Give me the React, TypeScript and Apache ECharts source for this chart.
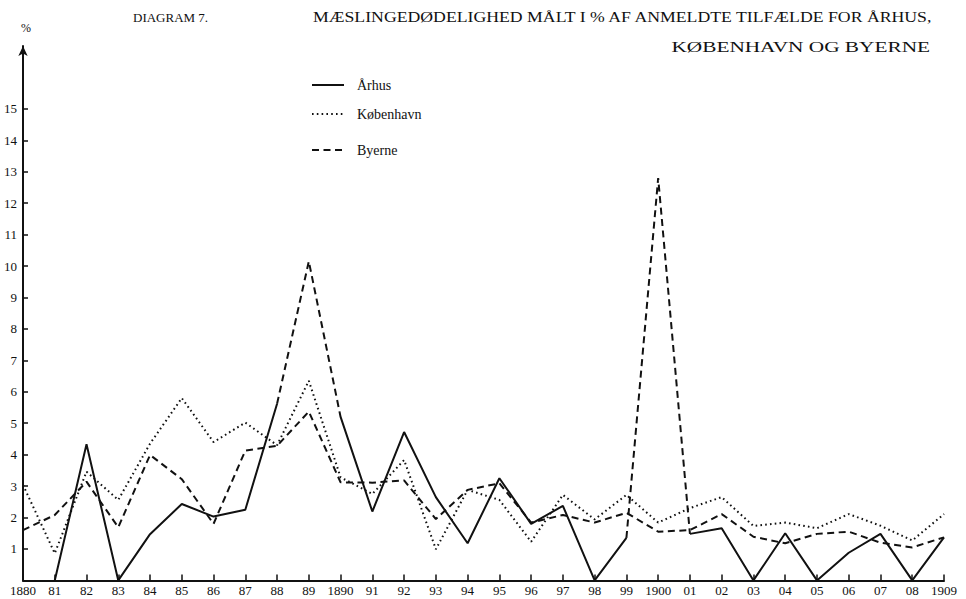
import React, { useEffect, useRef } from "react";
import * as echarts from "echarts";

const years = [
  "1880", "81", "82", "83", "84", "85", "86", "87", "88", "89",
  "1890", "91", "92", "93", "94", "95", "96", "97", "98", "99",
  "1900", "01", "02", "03", "04", "05", "06", "07", "08", "1909",
];

const yTicks = [1, 2, 3, 4, 5, 6, 7, 8, 9, 10, 11, 12, 13, 14, 15];

// Århus (solid; the two peaks are drawn dashed in the original)
const aarhus = [
  null, 0, 4.33, 0, 1.47, 2.43, 2.03, 2.25, 5.62, 10.15,
  5.2, 2.19, 4.72, 2.65, 1.18, 3.25, 1.8, 2.37, 0, 1.35,
  12.8, 1.48, 1.66, 0, 1.5, 0, 0.88, 1.48, 0, 1.37,
];
const aarhusDashedYears = ["89", "1900"];

const koebenhavn = [
  3.04, 0.86, 3.46, 2.56, 4.35, 5.8, 4.4, 5.02, 4.3, 6.35,
  3.28, 2.75, 3.83, 0.99, 2.88, 2.56, 1.23, 2.72, 1.94, 2.72,
  1.84, 2.3, 2.65, 1.73, 1.84, 1.66, 2.11, 1.74, 1.27, 2.11,
];

const byerne = [
  1.6, 2.08, 3.14, 1.69, 3.99, 3.22, 1.8, 4.13, 4.28, 5.37,
  3.12, 3.11, 3.18, 1.95, 2.88, 3.09, 1.84, 2.08, 1.84, 2.15,
  1.55, 1.6, 2.11, 1.39, 1.18, 1.48, 1.55, 1.2, 1.05, 1.37,
];

const FONT = "'Liberation Serif', 'DejaVu Serif', serif";
const INK = "#111";

export default function App() {
  const ref = useRef<HTMLDivElement>(null);

  useEffect(() => {
    if (!ref.current) return;
    const chart = echarts.init(ref.current, null, { renderer: "svg" });

    const dashedIdx = aarhusDashedYears.map((y) => years.indexOf(y));
    const aarhusSolid = aarhus.map((v, i) => (dashedIdx.includes(i) ? null : v));
    const aarhusDashed = aarhus.map((v, i) =>
      dashedIdx.some((d) => Math.abs(d - i) <= 1) ? v : null
    );

    const solidStyle = { color: INK, width: 2, type: "solid" as const };
    const dotStyle = { color: INK, width: 2, type: [1.6, 3.2] as any };
    const dashStyle = { color: INK, width: 2, type: [7, 4.5] as any };

    const legendCommon = {
      left: 311,
      padding: 0,
      itemWidth: 32,
      itemHeight: 10,
      selectedMode: false,
      itemStyle: { color: "transparent", borderWidth: 0, opacity: 0 },
      textStyle: {
        fontFamily: FONT,
        fontSize: 14,
        color: INK,
        padding: [0, 0, 0, 8],
      },
    };

    const titleText = (text: string, x: number, y: number, size: number, sx: number, align: string) => ({
      type: "text",
      x,
      y,
      scaleX: sx,
      style: {
        text,
        fontFamily: FONT,
        fontSize: size,
        fill: INK,
        textAlign: align,
        textVerticalAlign: "middle",
      },
    });

    chart.setOption({
      animation: false,
      backgroundColor: "#fff",
      graphic: [
        titleText("DIAGRAM 7.", 133, 17, 13, 1, "left"),
        titleText("MÆSLINGEDØDELIGHED MÅLT I % AF ANMELDTE TILFÆLDE FOR ÅRHUS,", 313, 17, 15, 1.183, "left"),
        titleText("KØBENHAVN OG BYERNE", 930, 47, 15, 1.42, "right"),
      ],
      legend: [
        { ...legendCommon, top: 78, data: ["Århus"] },
        { ...legendCommon, top: 107, data: ["København"] },
        { ...legendCommon, top: 143, data: ["Byerne"] },
      ],
      grid: { left: 23, right: 22, top: 46, bottom: 18.6, containLabel: false },
      xAxis: {
        type: "category",
        data: years,
        boundaryGap: false,
        axisLine: { lineStyle: { color: INK, width: 2 } },
        axisTick: { inside: true, length: 6, lineStyle: { color: INK, width: 1.5 } },
        axisLabel: { interval: 0, fontFamily: FONT, fontSize: 13, color: INK, margin: 4 },
        splitLine: { show: false },
      },
      yAxis: {
        type: "value",
        min: 0,
        max: 17,
        interval: 1,
        name: "%",
        nameLocation: "end",
        nameGap: 12,
        nameTextStyle: { fontFamily: FONT, fontSize: 12, color: INK, align: "left", padding: [0, 0, 0, -2] },
        axisLine: {
          show: true,
          symbol: ["none", "arrow"],
          symbolSize: [7, 10],
          lineStyle: { color: INK, width: 2 },
        },
        axisTick: {
          show: true,
          inside: true,
          length: 5,
          customValues: yTicks,
          lineStyle: { color: INK, width: 1.5 },
        },
        axisLabel: {
          customValues: yTicks,
          fontFamily: FONT,
          fontSize: 13,
          color: INK,
          margin: 6,
          formatter: (v: number) => (v >= 1 && v <= 15 ? String(v) : ""),
        },
        splitLine: { show: false },
      },
      series: [
        {
          name: "Århus",
          type: "line",
          data: aarhusSolid,
          symbol: "none",
          connectNulls: false,
          lineStyle: solidStyle,
          itemStyle: { color: INK },
          z: 3,
        },
        {
          name: "Århus (usikker)",
          type: "line",
          data: aarhusDashed,
          symbol: "none",
          connectNulls: false,
          lineStyle: dashStyle,
          itemStyle: { color: INK },
          z: 3,
        },
        {
          name: "København",
          type: "line",
          data: koebenhavn,
          symbol: "none",
          lineStyle: dotStyle,
          itemStyle: { color: INK },
          z: 2,
        },
        {
          name: "Byerne",
          type: "line",
          data: byerne,
          symbol: "none",
          lineStyle: dashStyle,
          itemStyle: { color: INK },
          z: 2,
        },
      ],
    });

    return () => chart.dispose();
  }, []);

  return (
    <div
      ref={ref}
      style={{ position: "fixed", left: 0, top: 0, width: 966, height: 599, background: "#fff" }}
    />
  );
}
